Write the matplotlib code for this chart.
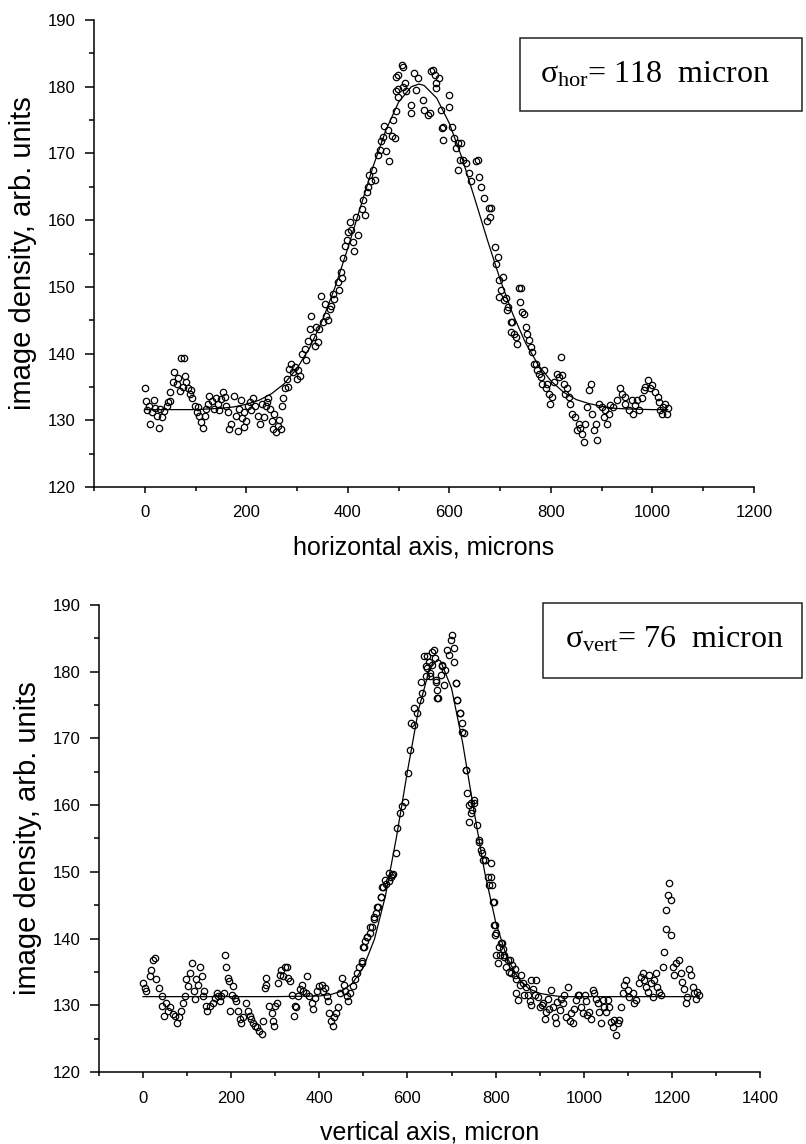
import matplotlib
matplotlib.use("Agg")
import matplotlib.pyplot as plt
from matplotlib.ticker import MultipleLocator
from matplotlib.patches import Rectangle

plt.rcParams['font.family'] = ['Liberation Sans', 'DejaVu Sans']
plt.rcParams['mathtext.fontset'] = 'custom'
plt.rcParams['mathtext.rm'] = 'Liberation Serif'
plt.rcParams['mathtext.it'] = 'Liberation Serif'

# ---- horizontal profile (top panel) ----
hor_x = [0, 2.6, 5, 7.8, 11, 14, 17.5, 20, 24, 29, 30, 33, 37, 43, 45, 50, 50, 56, 58, 63,
         65, 69, 72, 75, 77, 79, 82, 85, 89, 92, 94, 98, 102, 105, 107, 111, 115, 118, 121, 124,
         127, 133, 137, 140, 144, 147, 150, 155, 158, 160, 163, 166, 170, 176, 179, 183, 186, 190, 192, 195,
         196, 199, 204, 208, 210, 213, 218, 223, 227, 231, 235, 238, 240, 243, 247, 250, 253, 255, 258, 263,
         265, 268, 270, 273, 276, 281, 284, 289, 292, 299, 305, 310, 315, 322, 325, 328, 335, 341, 344, 348,
         351, 357, 364, 367, 373, 380, 386, 388, 391, 394, 401, 404, 410, 412, 420, 427, 433, 437, 442, 446,
         453, 459, 466, 472, 476, 482, 486, 492, 495, 495, 498, 499, 495, 498, 507, 508, 508, 512, 515, 525,
         525, 531, 535, 538, 548, 550, 558, 561, 564, 567, 571, 573, 574, 580, 584, 586, 587, 587, 600, 600,
         606, 610, 613, 616, 617, 620, 623, 626, 633, 639, 642, 652, 656, 659, 662, 669, 675, 678, 680, 682,
         691, 698, 698, 701, 705, 708, 711, 714, 721, 721, 724, 727, 731, 737, 739, 741, 744, 747, 750, 757,
         763, 767, 770, 773, 776, 780, 783, 786, 790, 796, 799, 806, 816, 819, 822, 825, 832, 838, 842, 848,
         855, 861, 865, 871, 878, 881, 888, 891, 894, 900, 905, 907, 910, 915, 917, 923, 930, 936, 940, 945,
         946, 953, 959, 962, 966, 970, 973, 979, 983, 986, 992, 995, 999, 1005, 1010, 1012, 1015, 1018, 1021, 1025,
         1028, 1030,
         # extra points on the slopes
         283, 295, 302, 318, 332, 338, 355, 360, 370, 383, 398, 407, 416, 430, 440, 450, 463, 470, 480, 488,
         690, 695, 716, 733, 753, 760, 793, 803, 812, 828, 835, 852, 858, 868, 875, 884]
hor_y = [134.8, 132.9, 131.5, 132.2, 129.4, 131.2, 133.0, 131.9, 130.7, 128.9, 131.7, 130.5, 131.4, 132.2, 132.8, 132.9, 134.2, 135.7, 137.3, 135.4,
         136.3, 134.4, 139.4, 135.0, 139.4, 136.7, 135.7, 134.9, 133.9, 134.5, 133.4, 132.2, 131.2, 132.0, 130.7, 129.7, 128.9, 130.7, 131.7, 132.5,
         133.7, 132.9, 131.7, 133.3, 132.4, 131.5, 133.2, 134.2, 133.5, 132.2, 131.2, 128.7, 129.4, 133.7, 130.7, 128.4, 131.7, 133.0, 130.4, 129.0,
         131.2, 129.9, 132.2, 132.7, 131.5, 133.4, 132.2, 130.7, 129.4, 132.4, 130.5, 132.2, 132.8, 133.4, 131.7, 129.9, 128.7, 131.0, 128.2, 129.2,
         130.0, 128.7, 132.2, 133.4, 134.9, 136.2, 137.7, 138.4, 137.2, 136.2, 136.7, 139.9, 140.7, 141.9, 143.7, 145.7, 141.2, 141.7, 143.7, 148.7,
         144.7, 145.7, 146.7, 147.2, 148.2, 150.7, 152.2, 151.4, 154.4, 156.2, 158.2, 159.7, 156.7, 155.4, 157.7, 161.7, 160.7, 164.2, 166.8, 165.8,
         166.0, 169.8, 171.8, 174.1, 170.3, 168.8, 172.6, 172.3, 176.4, 181.4, 179.6, 181.8, 179.3, 178.5, 183.3, 183.0, 180.0, 180.5, 179.3, 177.3,
         176.0, 182.0, 179.5, 181.3, 178.0, 176.5, 175.8, 176.0, 182.3, 182.5, 181.8, 180.5, 179.8, 181.3, 176.5, 173.8, 174.0, 172.0, 178.8, 177.0,
         174.0, 172.3, 170.8, 171.5, 167.5, 169.0, 171.5, 169.0, 168.5, 167.0, 165.8, 168.8, 169.0, 166.5, 165.0, 163.3, 159.8, 161.8, 160.5, 161.8,
         153.4, 151.0, 148.5, 149.5, 151.5, 148.0, 148.3, 146.5, 144.8, 143.3, 144.8, 143.0, 142.5, 149.8, 147.8, 149.8, 146.3, 146.0, 144.0, 142.0,
         140.3, 138.5, 138.5, 137.5, 137.0, 136.5, 135.5, 137.5, 134.8, 134.0, 132.5, 135.8, 136.5, 139.5, 136.8, 135.5, 134.8, 132.5, 131.0, 130.5,
         129.5, 128.0, 126.8, 132.0, 135.5, 131.0, 129.5, 127.0, 132.5, 132.0, 130.5, 131.5, 129.5, 131.0, 132.3, 132.0, 133.0, 134.8, 134.0, 133.5,
         132.5, 131.5, 133.0, 131.0, 132.3, 133.0, 131.5, 133.3, 134.5, 135.0, 136.0, 134.8, 135.3, 134.3, 133.5, 132.8, 131.5, 131.0, 132.0, 132.5,
         131.0, 131.8,
         135.0, 138.0, 137.5, 139.0, 142.5, 144.0, 147.5, 145.0, 149.0, 149.5, 157.0, 158.5, 160.5, 163.0, 165.0, 167.5, 170.5, 172.5, 173.5, 175.0,
         156.0, 154.5, 147.0, 141.5, 143.0, 141.0, 135.5, 133.5, 137.0, 134.0, 133.5, 128.5, 128.8, 129.5, 134.5, 128.5]

hor_fit_x = [0, 50, 100, 125, 150, 175, 200, 225, 250, 275, 300, 325, 350, 375, 400, 425, 450, 475, 500, 525,
             540, 550, 575, 600, 625, 650, 675, 700, 725, 750, 775, 800, 825, 850, 875, 900, 925, 950, 1000, 1030]
hor_fit_y = [131.6, 131.6, 131.6, 131.7, 131.8, 132.0, 132.4, 133.0, 134.0, 135.5, 137.8, 140.9, 145.0, 150.0, 155.8, 162.0, 168.1, 173.5, 177.7, 180.0,
             180.4, 180.2, 178.3, 174.5, 169.3, 163.2, 157.0, 151.1, 145.9, 141.6, 138.3, 135.9, 134.2, 133.1, 132.5, 132.1, 131.8, 131.7, 131.6, 131.6]

# ---- vertical profile (bottom panel) ----
ver_x = [0, 4, 7.6, 15, 19, 23, 26.5, 30, 36, 42, 44, 47, 53, 57, 62, 67, 72, 76, 82, 87,
         91, 95, 97, 102, 106, 110, 115, 117, 121, 125, 129, 133, 135, 138, 142, 145, 152, 158, 163, 167,
         171, 174, 178, 183, 186, 189, 192, 195, 197, 201, 205, 208, 212, 216, 220, 223, 227, 233, 239, 242,
         246, 250, 254, 258, 264, 269, 273, 276, 279, 280, 286, 292, 294, 297, 299, 303, 307, 311, 314, 318,
         322, 326, 330, 333, 339, 342, 345, 348, 352, 356, 360, 364, 370, 373, 377, 383, 386, 390, 395, 400,
         405, 409, 413, 417, 420, 423, 427, 430, 434, 438, 443, 447, 451, 455, 458, 462, 466, 470, 476, 481,
         485, 491, 496, 497, 500, 501, 504, 508, 508, 514, 516, 519, 523, 523, 529, 531, 534, 539, 539, 542,
         545, 550, 552, 557, 557, 562, 565, 568, 573, 577, 584, 588, 595, 601, 605, 608, 614, 622, 628, 633,
         637, 641, 643, 645, 645, 652, 652, 656, 660, 664, 664, 667, 667, 669, 679, 679, 686, 690, 698, 702,
         705, 709, 709, 713, 713, 720, 720, 724, 724, 728, 732, 732, 736, 739, 740, 743, 743, 747, 751, 751,
         758, 762, 762, 766, 770, 771, 777, 777, 783, 786, 789, 789, 792, 794, 796, 796, 798, 798, 800, 801,
         805, 808, 813, 815, 817, 819, 820, 824, 827, 832, 835, 838, 843, 847, 847, 851, 858, 862, 869, 873,
         877, 881, 885, 892, 896, 900, 907, 911, 915, 918, 926, 930, 934, 937, 945, 949, 952, 960, 964, 968,
         971, 975, 983, 986, 994, 998, 1002, 1005, 1013, 1017, 1020, 1024, 1032, 1035, 1039, 1043, 1047, 1054, 1058, 1062,
         1066, 1069, 1072, 1077, 1081, 1085, 1088, 1092, 1096, 1100, 1103, 1111, 1115, 1118, 1126, 1130, 1134, 1137, 1141, 1145,
         1149, 1152, 1156, 1160, 1164, 1167, 1171, 1175, 1179, 1183, 1186, 1186, 1190, 1194, 1198, 1198, 1202, 1205, 1209, 1217,
         1220, 1224, 1228, 1232, 1235, 1239, 1243, 1247, 1251, 1254, 1258, 1262,
         # extra points near the peak and the right base
         615, 630, 648, 655, 662, 675, 683, 694, 706,
         810, 830, 845, 855, 865, 880, 890, 905, 920, 940, 955, 978, 990, 1008, 1028, 1050]
ver_y = [133.4, 132.6, 132.1, 134.4, 135.3, 136.8, 137.1, 133.9, 132.6, 131.4, 129.9, 128.4, 130.4, 129.2, 129.7, 128.7, 128.4, 127.4, 128.2, 129.2,
         130.4, 131.4, 133.9, 132.9, 134.9, 136.3, 132.1, 130.9, 133.9, 133.1, 135.8, 134.4, 131.4, 132.1, 129.9, 129.2, 129.9, 130.4, 131.1, 131.9,
         131.4, 130.6, 131.4, 131.9, 137.6, 135.8, 134.1, 133.6, 129.2, 131.6, 132.9, 131.1, 130.6, 129.2, 127.9, 127.4, 128.2, 130.4, 129.2, 128.4,
         127.9, 127.4, 126.9, 126.7, 126.2, 125.7, 127.7, 132.6, 134.1, 133.1, 129.9, 128.9, 127.7, 126.9, 129.9, 130.4, 133.4, 134.6, 135.3, 134.4,
         135.8, 135.8, 134.1, 133.6, 131.6, 128.4, 129.9, 129.7, 131.4, 132.4, 133.1, 132.1, 131.9, 134.4, 131.4, 130.4, 129.4, 131.1, 132.1, 132.9,
         133.1, 132.1, 132.6, 131.4, 130.6, 128.9, 127.7, 126.9, 128.2, 128.9, 129.7, 131.9, 134.1, 133.1, 132.1, 131.4, 130.6, 131.9, 132.9, 133.9,
         134.9, 135.8, 136.6, 136.3, 138.8, 138.8, 139.6, 140.3, 140.3, 140.8, 141.8, 141.8, 143.0, 143.3, 143.8, 144.8, 144.8, 146.2, 146.3, 147.8,
         147.7, 148.8, 148.2, 148.7, 149.8, 149.2, 149.5, 149.7, 152.8, 156.5, 158.8, 159.8, 160.5, 164.8, 168.3, 172.3, 174.5, 173.8, 175.8, 176.8,
         182.3, 180.8, 179.3, 182.3, 180.5, 179.3, 179.8, 183.0, 183.3, 178.5, 178.8, 176.0, 177.3, 176.0, 180.8, 181.0, 180.3, 183.3, 184.8, 185.5,
         181.5, 178.3, 178.3, 175.8, 175.8, 173.8, 173.8, 172.3, 171.0, 170.8, 165.3, 165.3, 161.8, 160.0, 157.5, 160.3, 158.8, 159.3, 160.8, 160.3,
         157.0, 154.8, 154.5, 153.3, 152.8, 151.8, 151.8, 151.8, 149.3, 148.1, 151.3, 149.3, 148.0, 145.5, 145.5, 142.0, 142.0, 140.5, 140.8, 137.5,
         136.3, 138.8, 139.3, 139.3, 138.5, 137.5, 137.3, 135.8, 136.8, 136.8, 134.8, 136.0, 135.5, 134.0, 131.8, 130.8, 134.6, 133.3, 132.8, 131.5,
         130.6, 133.8, 132.5, 133.8, 131.3, 129.8, 130.3, 128.0, 129.0, 131.0, 132.3, 129.8, 128.3, 127.3, 129.3, 131.0, 130.3, 128.3, 132.8, 127.6,
         128.8, 127.3, 130.8, 131.5, 129.8, 128.8, 131.5, 130.6, 129.0, 128.0, 132.3, 131.8, 130.3, 129.0, 127.3, 130.8, 129.8, 130.8, 129.8, 127.5,
         126.8, 127.8, 125.5, 127.3, 127.8, 129.8, 131.8, 133.0, 133.8, 132.3, 131.3, 131.8, 130.3, 130.8, 133.3, 134.3, 134.8, 133.8, 132.8, 132.0,
         134.6, 133.3, 131.3, 133.8, 134.8, 132.8, 132.0, 131.6, 135.8, 138.0, 141.5, 144.3, 146.5, 148.3, 145.8, 140.5, 135.8, 134.6, 136.3, 136.8,
         134.8, 133.5, 132.5, 130.3, 131.3, 135.5, 134.5, 132.8, 131.8, 131.0, 132.0, 131.5,
         172.0, 178.5, 181.5, 181.0, 182.0, 179.5, 178.0, 182.5, 183.5,
         137.5, 135.0, 134.5, 133.0, 131.5, 130.0, 131.5, 130.0, 129.5, 130.5, 131.5, 129.5, 131.5, 128.5, 131.0, 129.0]

ver_fit_x = [0, 100, 200, 300, 400, 425, 450, 475, 500, 525, 550, 575, 600, 625, 650, 668, 675, 700, 725, 750,
             775, 800, 825, 850, 875, 900, 925, 950, 1100, 1262]
ver_fit_y = [131.3, 131.3, 131.3, 131.3, 131.4, 131.6, 132.1, 133.3, 135.7, 139.9, 146.4, 155.2, 165.1, 174.3, 180.4, 181.8, 181.6, 177.5, 169.4, 159.5,
             150.0, 142.5, 137.3, 134.2, 132.5, 131.8, 131.5, 131.3, 131.3, 131.3]

fig = plt.figure(figsize=(8.06, 11.44), dpi=100)
ax1 = fig.add_axes([0.1166, 0.5743, 0.8189, 0.4082])
ax2 = fig.add_axes([0.1228, 0.0629, 0.8202, 0.4083])


def style_axes(ax, xmax, xlabel):
    ax.set_xlim(-100, xmax)
    ax.set_ylim(120, 190)
    ax.spines['top'].set_visible(False)
    ax.spines['right'].set_visible(False)
    for s in ('left', 'bottom'):
        ax.spines[s].set_linewidth(1.1)
    ax.xaxis.set_major_locator(MultipleLocator(200))
    ax.xaxis.set_minor_locator(MultipleLocator(100))
    ax.yaxis.set_major_locator(MultipleLocator(10))
    ax.yaxis.set_minor_locator(MultipleLocator(5))
    ax.tick_params(axis='x', which='major', direction='out', length=4.3, width=1.1, pad=9, labelsize=12)
    ax.tick_params(axis='x', which='minor', direction='out', length=3.2, width=1.1)
    ax.tick_params(axis='y', which='major', direction='out', length=6.5, width=1.1, pad=6.5, labelsize=12)
    ax.tick_params(axis='y', which='minor', direction='out', length=3.6, width=1.1)
    ax.set_xlabel(xlabel, fontsize=18, labelpad=11)
    ax.set_ylabel('image density, arb. units', fontsize=21, labelpad=8)


ax1.plot(hor_fit_x, hor_fit_y, color='black', lw=0.9)
ax1.plot(hor_x, hor_y, 'o', ms=4.6, mfc='none', mec='black', mew=0.9)
style_axes(ax1, 1200, 'horizontal axis, microns')

ax2.plot(ver_fit_x, ver_fit_y, color='black', lw=0.9)
ax2.plot(ver_x, ver_y, 'o', ms=4.6, mfc='none', mec='black', mew=0.9)
style_axes(ax2, 1400, 'vertical axis, micron')

# sigma boxes
fig.add_artist(Rectangle((0.6452, 0.9030), 0.3499, 0.0638, transform=fig.transFigure,
                         fill=False, edgecolor='#222222', lw=1.1))
fig.text(0.670, 0.9283, r'$\sigma_{\mathrm{hor}}$= 118  micron', fontsize=23,
         family='Liberation Serif', ha='left', va='baseline')

fig.add_artist(Rectangle((0.6737, 0.4073), 0.3213, 0.0656, transform=fig.transFigure,
                         fill=False, edgecolor='#222222', lw=1.1))
fig.text(0.701, 0.4336, r'$\sigma_{\mathrm{vert}}$= 76  micron', fontsize=23,
         family='Liberation Serif', ha='left', va='baseline')

plt.savefig('out.png', dpi=100)
